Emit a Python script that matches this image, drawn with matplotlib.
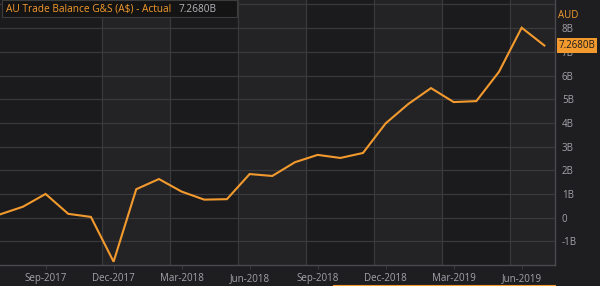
import matplotlib
matplotlib.use("Agg")
import matplotlib.pyplot as plt
from matplotlib.patches import Rectangle

plt.rcParams['font.family'] = ['Open Sans', 'DejaVu Sans']

# monthly AU trade balance, goods & services, A$ billions (Jul-2017 .. Jul-2019)
months = ["Jul-2017", "Aug-2017", "Sep-2017", "Oct-2017", "Nov-2017", "Dec-2017",
          "Jan-2018", "Feb-2018", "Mar-2018", "Apr-2018", "May-2018", "Jun-2018",
          "Jul-2018", "Aug-2018", "Sep-2018", "Oct-2018", "Nov-2018", "Dec-2018",
          "Jan-2019", "Feb-2019", "Mar-2019", "Apr-2019", "May-2019", "Jun-2019",
          "Jul-2019"]
balance = [0.14, 0.46, 1.00, 0.16, 0.03, -1.86, 1.20, 1.63, 1.10, 0.76, 0.78,
           1.84, 1.76, 2.34, 2.65, 2.52, 2.73, 3.98, 4.80, 5.47, 4.88, 4.92,
           6.16, 8.02, 7.268]
tick_labels = ["Sep-2017", "Dec-2017", "Mar-2018", "Jun-2018", "Sep-2018",
               "Dec-2018", "Mar-2019", "Jun-2019"]
y_ticks = [-1, 0, 1, 2, 3, 4, 5, 6, 7, 8, 9]
y_labels = ["-1B", "0", "1B", "2B", "3B", "4B", "5B", "6B", "7B", "8B", ""]

ORANGE = "#f39a2e"
BG = "#1e1e20"
DARK = "#1b1b1d"
LIGHT = "#232326"
GRID = "#3a3a3d"
TXT = "#a3a3ab"

fig = plt.figure(figsize=(6, 2.86), dpi=100, facecolor=BG)
ax = fig.add_axes([0.0, 21 / 286, 555 / 600, 265 / 286])
ax.set_facecolor(DARK)

x = list(range(len(months)))
xmin, xmax = -0.01, 24.47
ax.set_xlim(xmin, xmax)
ax.set_ylim(-2.0, 9.19)

# alternating quarter bands
edges = [xmin, 4.5, 7.5, 10.5, 13.5, 16.5, 19.5, 22.5, xmax]
for i in range(len(edges) - 1):
    if i % 2 == 1:
        ax.axvspan(edges[i], edges[i + 1], color=LIGHT, lw=0, zorder=0)
for e in edges[1:-1]:
    ax.axvline(e, color=GRID, lw=0.9, zorder=1)
for v in y_ticks:
    ax.axhline(v, color=GRID, lw=0.9, zorder=1)

ax.plot(x, balance, color=ORANGE, lw=1.5, zorder=3, solid_joinstyle='miter')

tick_pos = [months.index(t) for t in tick_labels]
ax.set_xticks(tick_pos)
ax.set_xticklabels(tick_labels)
ax.yaxis.tick_right()
ax.set_yticks(y_ticks)
ax.set_yticklabels(y_labels)
ax.tick_params(axis='x', colors=GRID, labelcolor=TXT, labelsize=7.0, length=3,
               direction='out', pad=2.5)
ax.tick_params(axis='y', length=0, labelcolor=TXT, labelsize=7.0, pad=5)
for side in ['top', 'left']:
    ax.spines[side].set_visible(False)
for side in ['bottom', 'right']:
    ax.spines[side].set_color("#4a4a4e")
    ax.spines[side].set_linewidth(1.0)

# title box
fig.patches.append(Rectangle((2 / 600, 1 - 17 / 286), 235 / 600, 17 / 286,
                             transform=fig.transFigure, facecolor="#141414",
                             edgecolor="#3c3c3c", lw=0.8, zorder=5))
fig.text(6 / 600, 1 - 9 / 286, "AU Trade Balance G&S (A$) - Actual",
         color=ORANGE, fontsize=7.3, va='center', ha='left', zorder=6)
fig.text(179 / 600, 1 - 9 / 286, "7.2680B", color="#b5b5bb", fontsize=7.3,
         va='center', ha='left', zorder=6)

# right-hand unit and last value
fig.text(558 / 600, 1 - 15 / 286, "AUD", color=ORANGE, fontsize=7.0,
         va='center', ha='left')
ax.annotate(f"{balance[-1]:.4f}B", xy=(1.0, balance[-1]), xycoords=('axes fraction', 'data'),
            xytext=(2.5, 0), textcoords='offset points', va='center', ha='left',
            fontsize=7.0, color="#1a1a1a", zorder=10,
            bbox=dict(boxstyle='square,pad=0.18', fc=ORANGE, ec='none'))

# navigator strip at the bottom
fig.add_artist(plt.Line2D([333 / 600, 555 / 600], [1.5 / 286, 1.5 / 286],
                          transform=fig.transFigure, color=ORANGE, lw=0.8))

fig.savefig("out.png", dpi=100, facecolor=BG)
